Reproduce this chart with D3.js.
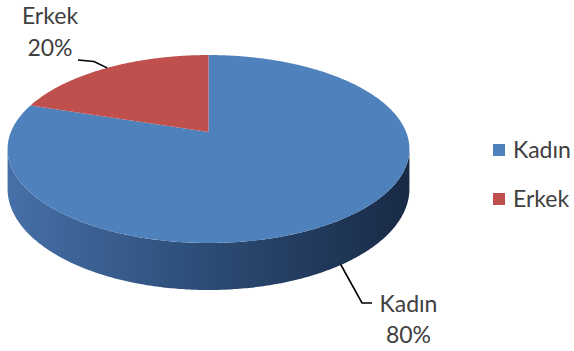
<!DOCTYPE html>
<html>
<head>
<meta charset="utf-8">
<script src="https://cdn.jsdelivr.net/npm/d3@7"></script>
<style>
  html, body { margin: 0; padding: 0; background: #ffffff; }
  svg { display: block; }
  text { font-family: Lato, "Open Sans", sans-serif; fill: #404040; }
</style>
</head>
<body>
<svg id="chart" width="574" height="351"></svg>
<script>
// Gender split
const categories = ["Kadın", "Erkek"];
const values = [80, 20];
const colors = ["#4f81bd", "#c0504d"];

const svg = d3.select("#chart");

// 3D disc with perspective: unit circle on the ground plane,
// u to the right, v pointing away from the viewer.
const X0 = 208.5, Y0 = 132;   // centre of the top face on screen
const RX = 197.6, RY = 90.9;  // horizontal / vertical radius before perspective
const P = 0.181;              // perspective strength
const DEPTH = 38.5;           // disc thickness

function project(theta, drop) {
  const u = Math.sin(theta), v = Math.cos(theta);
  const k = 1 + P * v;
  return [X0 + RX * u / k, Y0 - RY * v / k + (drop ? DEPTH / k : 0)];
}

const pie = d3.pie().sort(null).value(d => d).startAngle(0).endAngle(2 * Math.PI);
const arcs = pie(values);

function arcPoints(a0, a1, drop) {
  const n = Math.max(8, Math.ceil(Math.abs(a1 - a0) / 0.01));
  return d3.range(n + 1).map(i => project(a0 + (a1 - a0) * i / n, drop));
}

// Side gradient across the front wall
const defs = svg.append("defs");
const grad = defs.append("linearGradient")
  .attr("id", "sideGrad")
  .attr("gradientUnits", "userSpaceOnUse")
  .attr("x1", X0 - RX * 1.02).attr("y1", 0)
  .attr("x2", X0 + RX * 1.02).attr("y2", 0);
grad.append("stop").attr("offset", 0).attr("stop-color", "#4670a8");
grad.append("stop").attr("offset", 0.45).attr("stop-color", "#2e4f7a");
grad.append("stop").attr("offset", 1).attr("stop-color", "#182a45");

const line = d3.line();

// Front wall: only the part of each slice facing the viewer (cos θ < -P)
const visA0 = Math.PI - Math.acos(P);
const visA1 = Math.PI + Math.acos(P);
arcs.forEach((d, i) => {
  const a0 = Math.max(d.startAngle, visA0);
  const a1 = Math.min(d.endAngle, visA1);
  if (a1 <= a0) return;
  const top = arcPoints(a0, a1, false);
  const bottom = arcPoints(a1, a0, true);
  svg.append("path")
    .attr("d", line(top.concat(bottom)) + "Z")
    .attr("fill", i === 0 ? "url(#sideGrad)" : d3.color(colors[i]).darker(0.8));
});

// Top faces
arcs.forEach((d, i) => {
  const pts = [[X0, Y0]].concat(arcPoints(d.startAngle, d.endAngle, false));
  svg.append("path")
    .attr("d", line(pts) + "Z")
    .attr("fill", colors[i]);
});

// Data labels with leader lines
const fmt = v => Math.round(v / d3.sum(values) * 100) + "%";
const labelSpecs = [
  { cx: 408.5, y1: 312, y2: 343, anchorDrop: true,
    elbow: a => [[a[0] - 4, a[1] + 1], [362, 303], [372, 303]] },
  { cx: 50, y1: 24, y2: 56, anchorDrop: false,
    elbow: a => [[a[0], a[1]], [94, 61.5], [78, 60]] }
];
arcs.forEach((d, i) => {
  const spec = labelSpecs[i];
  const mid = (d.startAngle + d.endAngle) / 2;
  const anchor = project(mid, spec.anchorDrop);
  svg.append("path")
    .attr("d", line(spec.elbow(anchor)))
    .attr("fill", "none")
    .attr("stroke", "#000")
    .attr("stroke-width", 1.6);
  svg.append("text")
    .attr("x", spec.cx).attr("y", spec.y1)
    .attr("text-anchor", "middle")
    .attr("font-size", 23)
    .text(categories[i]);
  svg.append("text")
    .attr("x", spec.cx).attr("y", spec.y2)
    .attr("text-anchor", "middle")
    .attr("font-size", 23)
    .text(fmt(d.data));
});

// Legend
const legend = svg.append("g").attr("transform", "translate(493,0)");
const legendBaseline = [158, 207];
categories.forEach((c, i) => {
  legend.append("rect")
    .attr("x", 0).attr("y", legendBaseline[i] - 14)
    .attr("width", 12).attr("height", 12)
    .attr("fill", colors[i]);
  legend.append("text")
    .attr("x", 20).attr("y", legendBaseline[i])
    .attr("font-size", 23)
    .text(c);
});
</script>
</body>
</html>
